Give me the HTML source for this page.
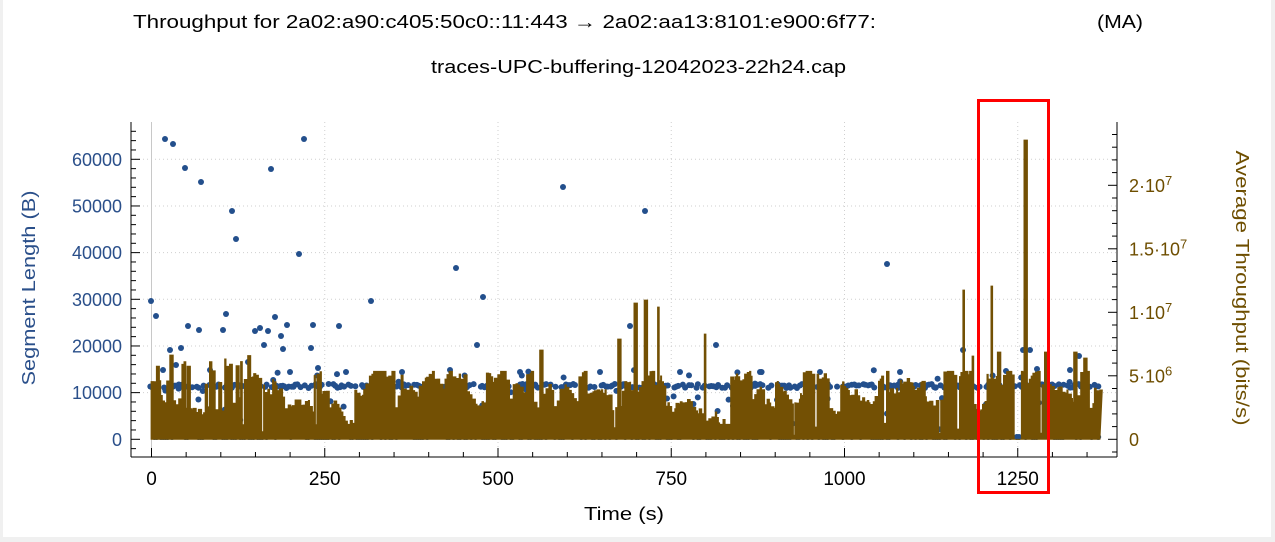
<!DOCTYPE html>
<html><head><meta charset="utf-8"><style>
html,body{margin:0;padding:0;background:#f0f0f0;}
#wrap{position:absolute;left:3px;top:0;width:1268px;height:537px;background:#fff;}
svg{position:absolute;left:0;top:0;}
text{font-family:"Liberation Sans","DejaVu Sans",sans-serif;}
</style></head><body>
<div id="wrap"></div>
<svg id="s" width="1275" height="542" xmlns="http://www.w3.org/2000/svg">
<text x="133" y="28" font-size="18" fill="#000" textLength="743" lengthAdjust="spacingAndGlyphs">Throughput for 2a02:a90:c405:50c0::11:443 → 2a02:aa13:8101:e900:6f77:</text>
<text x="1097" y="28" font-size="18" fill="#000" textLength="46" lengthAdjust="spacingAndGlyphs">(MA)</text>
<text x="431" y="73" font-size="18" fill="#000" textLength="415" lengthAdjust="spacingAndGlyphs">traces-UPC-buffering-12042023-22h24.cap</text>
<g id="grid"></g><g id="dots"></g><g id="bars"></g><g id="axes"></g>
<text transform="translate(35,288) rotate(-90)" font-size="18" fill="#2a4f8a" text-anchor="middle" textLength="195" lengthAdjust="spacingAndGlyphs">Segment Length (B)</text>
<text transform="translate(1236,288) rotate(90)" font-size="18" fill="#6e4e00" text-anchor="middle" textLength="275" lengthAdjust="spacingAndGlyphs">Average Throughput (bits/s)</text>
<text x="624" y="520" font-size="18" fill="#000" text-anchor="middle" textLength="80" lengthAdjust="spacingAndGlyphs">Time (s)</text>
<rect x="978.5" y="100.5" width="70" height="392" fill="none" stroke="#ff0000" stroke-width="3"/>
</svg>
<script>
const NS="http://www.w3.org/2000/svg";
function el(p,t,a,txt){const e=document.createElementNS(NS,t);for(const k in a)e.setAttribute(k,a[k]);if(txt!==undefined)e.textContent=txt;document.getElementById(p).appendChild(e);return e;}
let seed=12345;function R(){seed=(seed*1103515245+12345)%2147483648;return seed/2147483648;}
const X0=151.5,XS=0.693,Y0=439.3,LS=280/60000,RS=12.7/1e6;
const L=131,RT=1117,T=122,B=457;
for(let v=10000;v<=60000;v+=10000){const y=Y0-v*LS;el("grid","line",{x1:L,x2:RT,y1:y,y2:y,stroke:"#cfcfcf","stroke-dasharray":"1,3"});}
for(let t=250;t<=1250;t+=250){const x=X0+t*XS;el("grid","line",{x1:x,x2:x,y1:T,y2:B,stroke:"#cfcfcf","stroke-dasharray":"1,3"});}
el("grid","line",{x1:X0,x2:X0,y1:T,y2:B,stroke:"#c8c8c8"});
const col="#234f8c";
for(let x=150;x<1100;x+=2.2){if(R()<0.7)el("dots","circle",{cx:x+R(),cy:386+(R()-0.5)*4,r:3,fill:col});if(R()<0.5)el("dots","circle",{cx:x,cy:437,r:3,fill:col});if(R()<0.25)el("dots","circle",{cx:x,cy:370+R()*65,r:3,fill:col});}
const out=[[151,301],[156,316],[165,139],[173,144],[185,168],[201,182],[232,211],[236,239],[260,328],[226,314],[170,350],[181,348],[188,326],[199,330],[223,330],[268,331],[275,317],[255,331],[264,345],[281,336],[271,169],[299,254],[304,139],[283,349],[287,325],[311,348],[313,325],[339,326],[371,301],[456,268],[483,297],[477,345],[563,187],[630,326],[645,211],[716,345],[887,264],[963,350],[1006,371],[1023,350],[1030,350],[1037,369],[1070,370],[1079,356],[163,370],[176,365],[210,370],[248,362],[290,372],[318,368],[346,372],[402,372],[450,370],[520,372],[600,372],[680,372],[760,372],[820,372],[900,372]];
out.forEach(p=>el("dots","circle",{cx:p[0],cy:p[1],r:3,fill:col}));
const spikes={170:355,541:350,619:339,635:303,645:300,657:307,704:334,963:290,972:356,990:286,998:352,1005:360,1025:140,1045:352,1075:352,1084:358};
let d="M151,"+Y0;let x=151;let h=45;
while(x<1100){let w=1+R()*2.5;
 if(R()<0.2)h=28+R()*40; else h+=(R()-0.5)*12;
 h=Math.max(15,Math.min(68,h));
 let top=Y0-h;
 if(R()<0.04)top=Y0-R()*20;
 for(const k in spikes){if(Math.abs(k-x)<=1.5){top=spikes[k];w=1.8;}}
 if(x>=1012&&x<1020)top=Y0;
 if(x<250&&R()<0.4)top=Y0-55-R()*30;
 d+=" L"+x.toFixed(1)+","+top.toFixed(1)+" L"+(x+w).toFixed(1)+","+top.toFixed(1);x+=w;}
d+=" L1100,"+Y0+" Z";
el("bars","path",{d:d,fill:"#735004",stroke:"#735004","stroke-width":"0.8"});
el("axes","line",{x1:L,x2:L,y1:T,y2:B,stroke:"#000"});
el("axes","line",{x1:RT,x2:RT,y1:T,y2:B,stroke:"#000"});
el("axes","line",{x1:L,x2:RT,y1:B,y2:B,stroke:"#000"});
for(let v=-6000;v<=68000;v+=2000){const y=Y0-v*LS;if(y<T)break;if(y>B)continue;const mj=v%10000==0;el("axes","line",{x1:L,x2:L+(mj?9:5),y1:y,y2:y,stroke:"#000"});
 if(mj&&v>=0)el("axes","text",{x:122,y:y+6.5,"font-size":"18",fill:"#2a4f8a","text-anchor":"end"},String(v));}
for(let v=-1e6;v<=26e6;v+=1e6){const y=Y0-v*RS;if(y<T)break;const mj=v%5e6==0;el("axes","line",{x1:RT,x2:RT-(mj?9:5),y1:y,y2:y,stroke:"#000"});}
const rl=[[0,"0",""],[5e6,"5·10","6"],[1e7,"1·10","7"],[1.5e7,"1.5·10","7"],[2e7,"2·10","7"]];
rl.forEach(r=>{const y=Y0-r[0]*RS;const t=el("axes","text",{x:1129,y:y+6.5,"font-size":"18",fill:"#6e4e00"},r[1]);if(r[2]){const ts=document.createElementNS(NS,"tspan");ts.setAttribute("dy","-7");ts.setAttribute("font-size","13");ts.textContent=r[2];t.appendChild(ts);}});
for(let t=-50;t<=1400;t+=50){const xx=X0+t*XS;if(xx<L||xx>RT)continue;const mj=t%250==0;el("axes","line",{x1:xx,x2:xx,y1:B,y2:B-(mj?9:5),stroke:"#000"});
 if(mj&&t>=0)el("axes","text",{x:xx,y:485,"font-size":"19",fill:"#000","text-anchor":"middle"},String(t));}
</script>
</body></html>
